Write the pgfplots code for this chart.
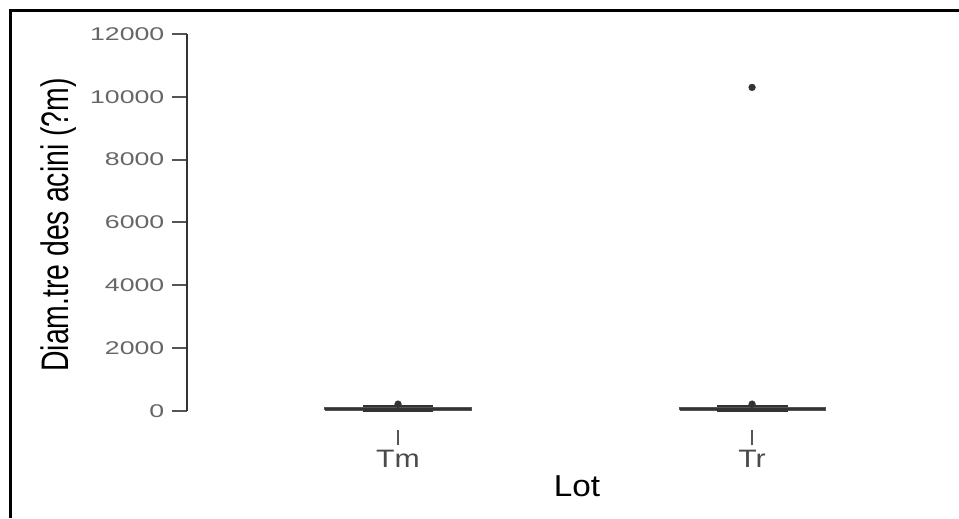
\documentclass[border=0pt]{standalone}
\usepackage{pgfplots}
\pgfplotsset{compat=1.18}
\usepackage{graphicx}
\usepackage{fontspec}
\setmainfont{Liberation Sans}
\newfontfamily\tickfont[FakeStretch=1.45]{Liberation Sans}
\newfontfamily\catfont[FakeStretch=1.2]{Liberation Sans}
\newfontfamily\lotfont[FakeStretch=1.1]{Liberation Sans}
\definecolor{axgray}{HTML}{333333}
\definecolor{tickgray}{HTML}{555555}
\definecolor{labgray}{HTML}{666666}
\definecolor{catgray}{HTML}{4A4A4A}
\definecolor{boxgray}{HTML}{555555}
\begin{document}
\begin{tikzpicture}
\useasboundingbox (0pt,0pt) rectangle (719.25pt,-388.5pt);
\draw[line width=2.25pt] (7.5pt,-388.5pt) -- (7.5pt,-7.5pt) -- (719.25pt,-7.5pt);
\begin{axis}[
  at={(140.25pt,-322.5pt)}, anchor=south west,
  scale only axis, width=585pt, height=307.5pt,
  xmin=0.404, xmax=2.607, ymin=-605, ymax=12445,
  axis line style={draw=none}, clip=false,
  xtick={1,2}, xticklabels={Tm,Tr},
  xtick pos=left, ytick pos=left,
  ytick={0,2000,4000,6000,8000,10000,12000},
  tick align=outside, major tick length=11.5pt,
  tick style={line width=1.5pt, color=tickgray},
  scaled y ticks=false,
  yticklabel style={font=\fontsize{13.8}{15}\selectfont\tickfont, text=labgray, xshift=-2pt, /pgf/number format/1000 sep={}, /pgf/number format/assume math mode=true},
  xticklabel style={font=\fontsize{18.9}{20}\selectfont\catfont, text=catgray},
  xlabel={Lot}, ylabel={\scalebox{1}[1.35]{Diam.tre des acini (?m)}},
  xlabel style={at={(axis description cs:0.5,-0.1366)}, anchor=center, font=\fontsize{22.7}{24}\selectfont\lotfont},
  ylabel style={at={(axis description cs:-0.1647,0.5)}, anchor=center, font=\fontsize{21.3}{23}\selectfont},
]
% Tm box (Q1, median, Q3) and whisker staples
\addplot[draw=boxgray, line width=1.5pt] coordinates {(0.795,30) (1.205,30) (1.205,90) (0.795,90) (0.795,30)};
\addplot[draw=axgray, line width=1.5pt] coordinates {(0.795,60) (1.205,60)};
\addplot[draw=axgray, line width=1.5pt] coordinates {(1,90) (1,160)};
\addplot[draw=axgray, line width=1.5pt] coordinates {(0.9,160) (1.1,160)};
\addplot[draw=axgray, line width=1.5pt] coordinates {(0.9,-10) (1.1,-10)};
% Tr box
\addplot[draw=boxgray, line width=1.5pt] coordinates {(1.795,30) (2.205,30) (2.205,90) (1.795,90) (1.795,30)};
\addplot[draw=axgray, line width=1.5pt] coordinates {(1.795,60) (2.205,60)};
\addplot[draw=axgray, line width=1.5pt] coordinates {(2,90) (2,160)};
\addplot[draw=axgray, line width=1.5pt] coordinates {(1.9,160) (2.1,160)};
\addplot[draw=axgray, line width=1.5pt] coordinates {(1.9,-10) (2.1,-10)};
% outliers
\addplot[only marks, mark=*, mark size=2.5pt, mark options={fill=axgray, draw=axgray}]
  coordinates {(1,220) (2,220) (2,10300)};
\draw[axgray, line width=1.5pt] (axis cs:0.404,0) -- (axis cs:0.404,12000);
\end{axis}
\end{tikzpicture}
\end{document}
